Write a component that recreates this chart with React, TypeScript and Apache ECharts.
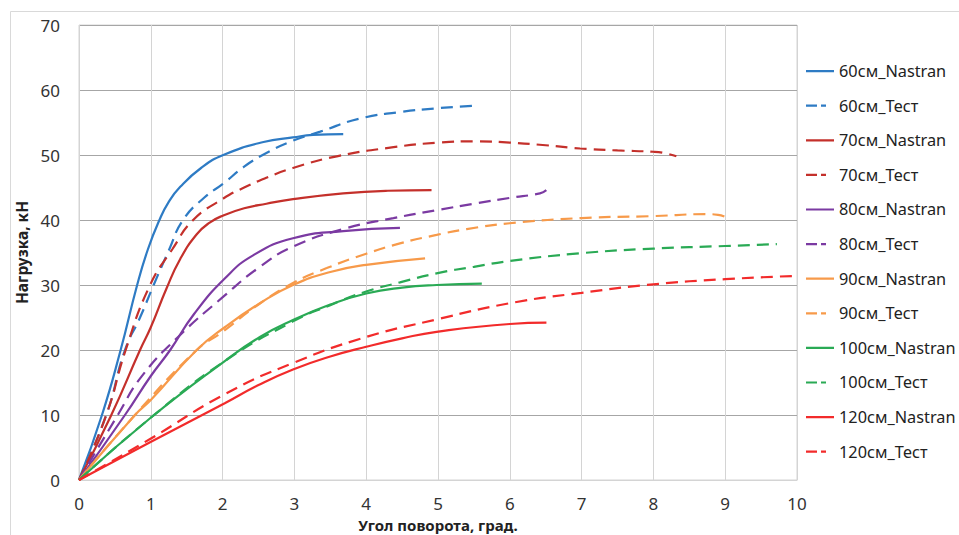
import React, { useEffect, useRef } from "react";
import * as echarts from "echarts";

const xTicks = [0, 1, 2, 3, 4, 5, 6, 7, 8, 9, 10];
const yTicks = [0, 10, 20, 30, 40, 50, 60, 70];

const seriesNames = [
  "60см_Nastran",
  "60см_Тест",
  "70см_Nastran",
  "70см_Тест",
  "80см_Nastran",
  "80см_Тест",
  "90см_Nastran",
  "90см_Тест",
  "100см_Nastran",
  "100см_Тест",
  "120см_Nastran",
  "120см_Тест",
];

const s60N: number[][] = [[0,0],[0.32,10],[0.58,20],[0.81,30],[0.96,35.5],[1.12,40],[1.25,42.8],[1.41,45.1],[1.7,48],[2.01,50],[2.57,52],[2.98,52.7],[3.26,53.1],[3.68,53.2]];
const s60T: number[][] = [[0,0],[0.38,10],[0.64,20],[0.85,25],[1.04,30],[1.25,35.3],[1.45,40],[1.75,43.5],[2.01,45.6],[2.3,48.2],[2.61,50.3],[2.98,52.2],[3.36,53.6],[3.91,55.6],[4.47,56.6],[5.0,57.2],[5.56,57.6]];
const s70N: number[][] = [[0,0],[0.45,10],[0.85,20],[1.0,23.5],[1.22,29.5],[1.41,34],[1.64,37.8],[1.82,39.6],[2.01,40.7],[2.3,41.8],[2.61,42.5],[2.98,43.2],[3.68,44.1],[4.3,44.5],[4.91,44.6]];
const s70T: number[][] = [[0,0],[0.38,10],[0.65,20],[0.99,30],[1.3,35.5],[1.59,40],[2.01,43.3],[2.3,45],[2.61,46.5],[2.98,48.0],[3.59,49.8],[4.38,51.2],[5.0,51.9],[5.54,52.1],[6.0,51.9],[6.5,51.5],[6.98,51.0],[7.5,50.7],[8.0,50.5],[8.15,50.3],[8.32,49.8]];
const s80N: number[][] = [[0,0],[0.64,10],[1.0,16],[1.27,20],[1.6,25.5],[2.03,31.0],[2.43,34.6],[2.98,37.2],[3.68,38.3],[4.47,38.8]];
const s80T: number[][] = [[0,0],[0.54,10],[0.87,15.9],[1.38,22],[2.01,28.2],[2.52,32.8],[2.98,35.9],[3.68,38.6],[4.38,40.3],[4.98,41.5],[5.5,42.5],[6.0,43.4],[6.42,44.1],[6.51,44.6]];
const s90N: number[][] = [[0,0],[0.78,10],[1.0,12.3],[1.64,20],[2.03,23.5],[2.52,27.2],[2.98,30.0],[3.5,32],[4.0,33.1],[4.82,34.1]];
const s90T: number[][] = [[0,0],[0.78,10],[1.64,20],[2.0,22.8],[2.5,27],[2.98,30.3],[3.45,32.6],[4.0,34.8],[4.47,36.4],[4.98,37.7],[5.4,38.6],[6.0,39.5],[7.0,40.3],[8.0,40.6],[8.74,40.9],[8.9,40.8],[9.04,40.3]];
const s100N: number[][] = [[0,0],[0.99,9.5],[2.03,18.3],[2.52,22],[2.98,24.6],[3.5,27],[4.0,28.7],[4.5,29.6],[4.98,30.0],[5.61,30.2]];
const s100T: number[][] = [[0,0],[0.99,9.5],[2.03,18.3],[2.98,24.4],[3.5,26.9],[4.0,29],[4.47,30.4],[4.98,31.8],[5.5,32.8],[6.0,33.7],[7.0,34.9],[8.0,35.6],[9.0,36.0],[9.72,36.3]];
const s120N: number[][] = [[0,0],[0.99,5.8],[2.03,11.8],[2.5,14.6],[2.98,17.0],[3.5,19.0],[4.0,20.5],[4.5,21.8],[4.98,22.8],[6.0,24.0],[6.51,24.2]];
const s120T: number[][] = [[0,0],[0.99,6.3],[2.03,13.2],[2.98,18],[4.0,22],[4.98,24.7],[6.0,27.2],[7.0,28.8],[8.0,30.1],[9.0,30.9],[10.0,31.4]];

const seriesData = [s60N, s60T, s70N, s70T, s80N, s80T, s90N, s90T, s100N, s100T, s120N, s120T];
const colors = ["#2E7BC4", "#2E7BC4", "#C4302B", "#C4302B", "#7B3AA2", "#7B3AA2", "#F79A4A", "#F79A4A", "#2AAA55", "#2AAA55", "#F22B2B", "#F22B2B"];
const dashed = [false, true, false, true, false, true, false, true, false, true, false, true];

const FONT = "'Noto Sans', sans-serif";
const BOX = " M0,0 L0.01,0 L0,0.01 Z M27.99,14 L28,14 L28,13.99 Z";
const ICON_SOLID = "path://M0,6 H28 V8.2 H0 Z" + BOX;
const ICON_DASH = "path://M0,6 H11 V8.2 H0 Z M15,6 H20 V8.2 H15 Z" + BOX;

export default function App() {
  const ref = useRef<HTMLDivElement>(null);
  useEffect(() => {
    if (!ref.current) return;
    const chart = echarts.init(ref.current, null, { renderer: "svg" });
    chart.setOption({
      animation: false,
      backgroundColor: "#ffffff",
      graphic: [
        {
          type: "rect",
          shape: { x: 10.5, y: 11.5, width: 1000, height: 600 },
          style: { fill: "none", stroke: "#d9d9d9", lineWidth: 1 },
          silent: true,
        },
      ],
      grid: {
        left: 79,
        right: 162,
        top: 25,
        bottom: 55,
        show: true,
        borderColor: "#d4d4d4",
        borderWidth: 1,
        outerBoundsMode: "none",
        containLabel: false,
      },
      legend: {
        orient: "vertical",
        left: 806,
        top: 63,
        padding: 0,
        itemWidth: 28,
        itemHeight: 14,
        itemGap: 18.6,
        data: seriesNames.map((n, i) => ({ name: n, icon: dashed[i] ? ICON_DASH : ICON_SOLID })),
        textStyle: { fontSize: 16.3, fontFamily: FONT, color: "#222" },
      },
      xAxis: {
        type: "value",
        min: 0,
        max: 10,
        interval: 1,
        name: "Угол поворота, град.",
        nameLocation: "middle",
        nameGap: 31,
        nameTextStyle: { fontSize: 15, lineHeight: 16, fontWeight: "bold", fontFamily: FONT, color: "#222" },
        axisLine: { show: true, lineStyle: { color: "#d4d4d4" } },
        axisTick: { show: false },
        axisLabel: { margin: 15, fontSize: 17, fontFamily: FONT, color: "#333", formatter: (v: number) => (xTicks.includes(v) ? String(v) : "") },
        splitLine: { show: true, lineStyle: { color: "#d4d4d4", width: 1 } },
      },
      yAxis: {
        type: "value",
        min: 0,
        max: 70,
        interval: 10,
        name: "Нагрузка, кН",
        nameLocation: "middle",
        nameGap: 43.5,
        nameRotate: 90,
        nameTextStyle: { fontSize: 15.5, fontWeight: "bold", fontFamily: FONT, color: "#222" },
        axisLine: { show: false },
        axisTick: { show: false },
        axisLabel: { margin: 19, fontSize: 17, fontFamily: FONT, color: "#333", formatter: (v: number) => (yTicks.includes(v) ? String(v) : "") },
        splitLine: { show: true, lineStyle: { color: "#a6a6a6", width: 1 } },
      },
      series: seriesData.map((d, i) => ({
        name: seriesNames[i],
        type: "line",
        data: d,
        showSymbol: false,
        symbol: "none",
        smooth: 0.5,
        color: colors[i],
        itemStyle: { color: colors[i] },
        lineStyle: {
          color: colors[i],
          width: 2.2,
          type: dashed[i] ? [12, 7] : "solid",
        },
      })),
    });
    return () => chart.dispose();
  }, []);
  return (
    <div
      ref={ref}
      style={{ position: "fixed", left: 0, top: 0, width: 959, height: 535, background: "#fff" }}
    />
  );
}
